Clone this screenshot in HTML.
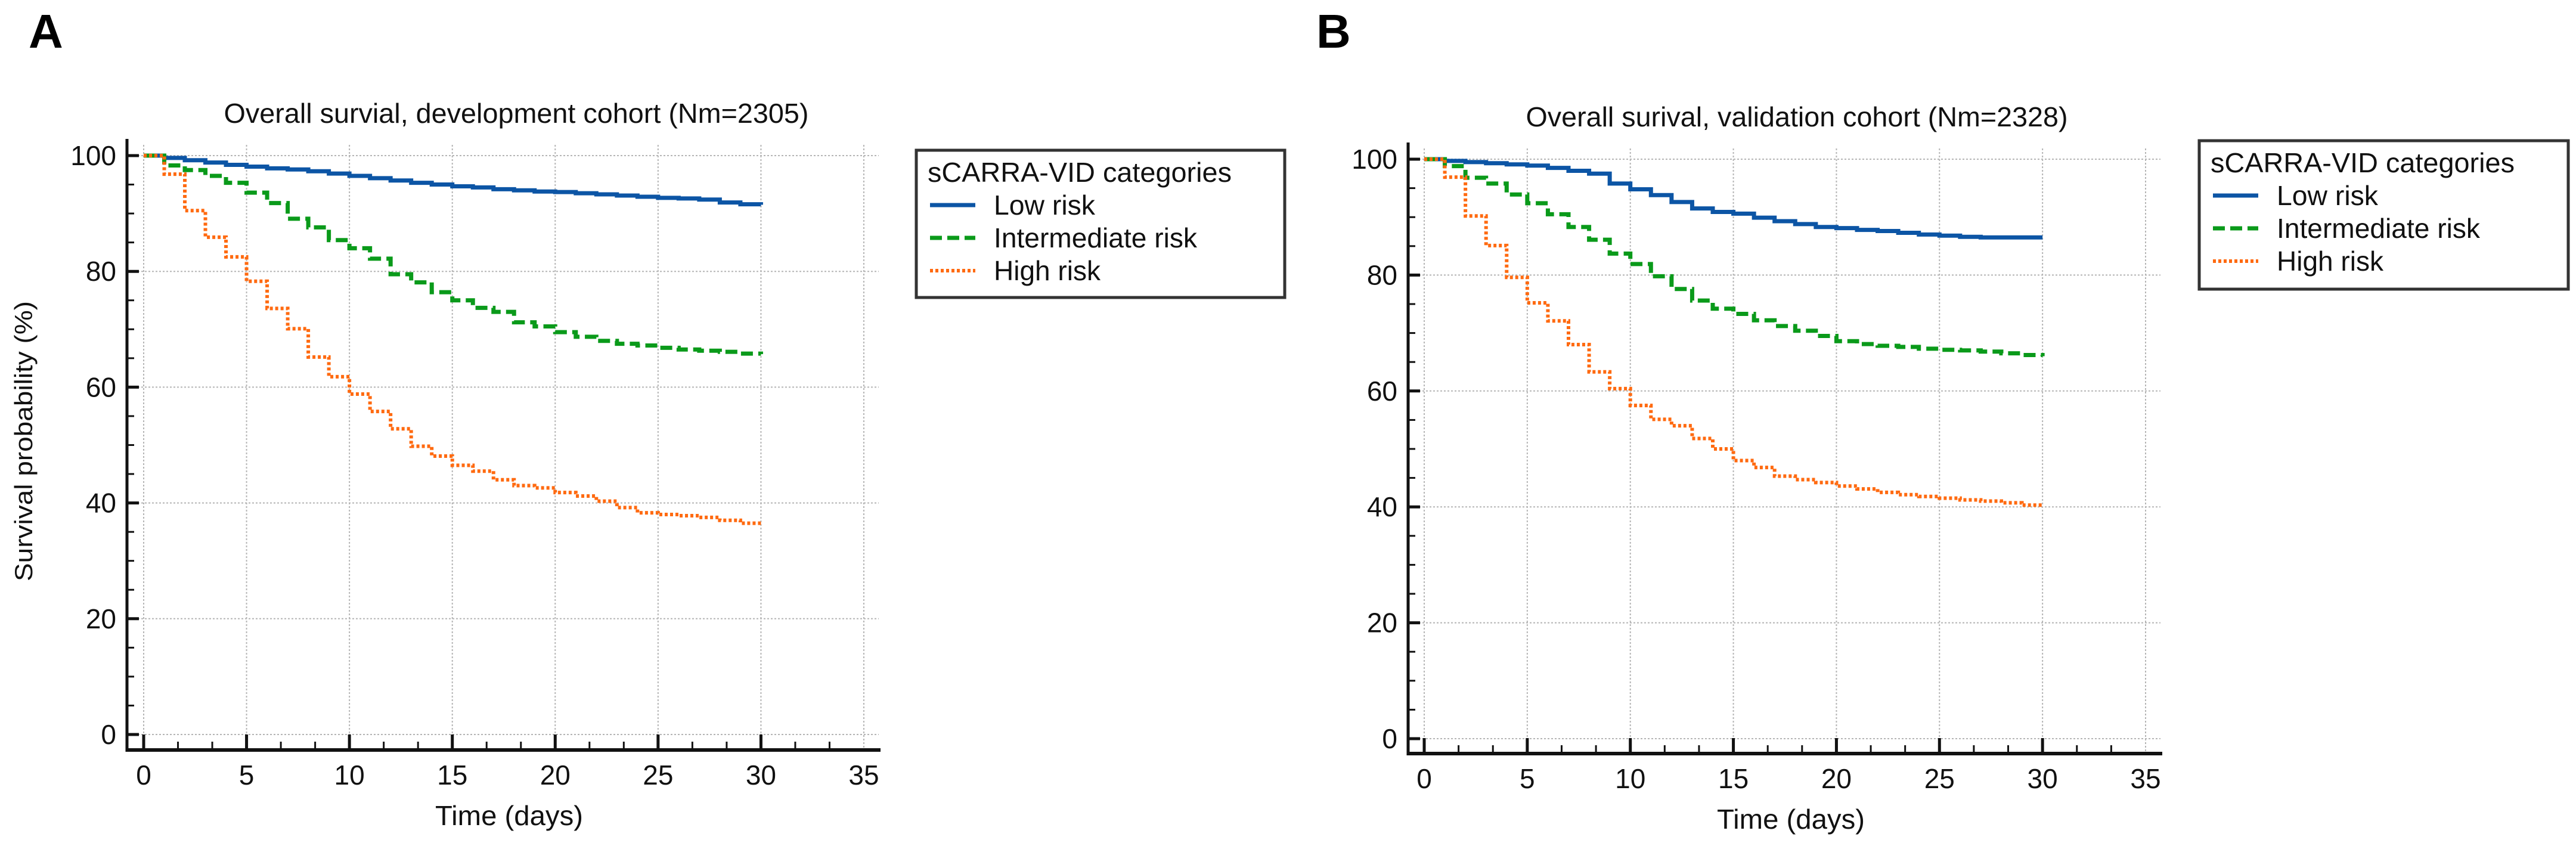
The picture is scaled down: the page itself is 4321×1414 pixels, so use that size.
<!DOCTYPE html>
<html><head><meta charset="utf-8"><style>
html,body{margin:0;padding:0;background:#fff;}
svg{display:block;font-family:"Liberation Sans",sans-serif;}
</style></head><body>
<svg id="chart" width="4321" height="1414" viewBox="0 0 4321 1414" xmlns="http://www.w3.org/2000/svg">
<rect width="4321" height="1414" fill="#fff"/>
</svg>
<script>
const days = [0,1,2,3,4,5,6,7,8,9,10,11,12,13,14,15,16,17,18,19,20,21,22,23,24,25,26,27,28,29,30];
const xTicks = [0,5,10,15,20,25,30,35];
const yTicks = [0,20,40,60,80,100];
const seriesNames = ["Low risk","Intermediate risk","High risk"];
const lowA = [100,99.6,99.2,98.8,98.4,98.1,97.8,97.6,97.3,96.9,96.5,96.1,95.7,95.3,95.0,94.7,94.5,94.2,94.0,93.8,93.7,93.5,93.3,93.1,92.9,92.7,92.6,92.4,91.9,91.6,91.5];
const interA = [100,98.3,97.5,96.5,95.3,93.6,91.8,89.1,87.6,85.4,84.0,82.2,79.5,78.1,76.4,75.0,73.7,73.0,71.2,70.5,69.5,68.7,68.0,67.5,67.2,66.8,66.5,66.3,66.1,65.8,65.7];
const highA = [100,96.8,90.5,85.9,82.5,78.3,73.6,70.1,65.2,61.8,58.8,55.8,52.8,49.8,48.1,46.5,45.5,44.0,43.0,42.6,41.8,41.2,40.3,39.2,38.3,38.0,37.8,37.5,37.0,36.5,36.3];
const lowB = [100,99.7,99.5,99.3,99.1,98.9,98.5,98.0,97.5,95.8,94.8,93.8,92.6,91.5,90.9,90.6,89.9,89.3,88.8,88.3,88.1,87.8,87.6,87.3,87.0,86.8,86.6,86.5,86.5,86.5,86.5];
const interB = [100,98.8,96.8,95.8,93.9,92.4,90.5,88.3,86.1,83.7,81.9,79.8,77.6,75.6,74.2,73.3,72.2,71.2,70.4,69.5,68.6,68.1,67.8,67.6,67.3,67.1,67.0,66.8,66.5,66.2,66.0];
const highB = [100,96.9,90.2,85.1,79.6,75.2,72.1,68.0,63.3,60.4,57.5,55.1,54.0,51.8,50.0,48.0,46.8,45.3,44.7,44.2,43.6,43.1,42.5,42.1,41.8,41.5,41.2,41.0,40.7,40.3,40.1];

const NS = "http://www.w3.org/2000/svg";
const svg = document.getElementById('chart');
function mk(tag, attrs, parent, text){
  const e = document.createElementNS(NS, tag);
  for (const k in attrs) e.setAttribute(k, attrs[k]);
  if (text !== undefined) e.textContent = text;
  (parent || svg).appendChild(e);
  return e;
}
const styles = [
  {color:"#0c55a5", dash:"none", w:7},
  {color:"#0a9a1a", dash:"20 9", w:7},
  {color:"#ff6a10", dash:"5 4", w:6}
];

const panels = [
  {key:"a", letter:"A", lx:48, x0:241, x35:1449, y100:261, y0:1232, axisY:1258, axisX:213, axisTop:233,
   title:"Overall survial, development cohort (Nm=2305)", tcx:866, tcy:206, tw:981,
   xtY:1316, xtitleX:854, xtitleY:1384, ytitle:true,
   leg:{x:1537,y:252,w:618,h:247}, data:[lowA,interA,highA]},
  {key:"b", letter:"B", lx:2208, x0:2389, x35:3599, y100:267, y0:1239, axisY:1264, axisX:2362, axisTop:239,
   title:"Overall surival, validation cohort (Nm=2328)", tcx:3014, tcy:212, tw:909,
   xtY:1322, xtitleX:3004, xtitleY:1390, ytitle:false,
   leg:{x:3689,y:236,w:619,h:249}, data:[lowB,interB,highB]}
];

panels.forEach(p => {
  const g = mk('g', {});
  
  
  const X = d => p.x0 + (p.x35 - p.x0) * d / 35;
  const Y = v => p.y0 + (p.y100 - p.y0) * v / 100;

  const letter = mk('text', {x:p.lx, y:80, 'font-size':80, 'font-weight':'bold', fill:'#000'}, g, p.letter);
  
  

  const title = mk('text', {x:p.tcx, y:p.tcy, 'font-size':46, 'text-anchor':'middle', textLength:p.tw, lengthAdjust:'spacingAndGlyphs', fill:'#111'}, g, p.title);
  
  

  xTicks.forEach(t => {
    const l = mk('line', {x1:X(t), x2:X(t), y1:p.axisTop+10, y2:p.axisY, stroke:'#b5b5b5', 'stroke-width':2, 'stroke-dasharray':'3 3'}, g);
    
    
  });
  yTicks.forEach(t => {
    const l = mk('line', {x1:p.axisX, x2:X(35)+25, y1:Y(t), y2:Y(t), stroke:'#b5b5b5', 'stroke-width':2, 'stroke-dasharray':'3 3'}, g);
    
    
  });

  const xa = mk('line', {x1:p.axisX, x2:X(35)+28, y1:p.axisY, y2:p.axisY, stroke:'#111', 'stroke-width':6}, g);
  
  
  const ya = mk('line', {x1:p.axisX, x2:p.axisX, y1:p.axisTop, y2:p.axisY+3, stroke:'#111', 'stroke-width':5}, g);
  
  

  for (let d = 0; d <= 35; d += 5/3) {
    const major = Math.abs(d/5 - Math.round(d/5)) < 0.01;
    const t = mk('line', {x1:X(d), x2:X(d), y1:p.axisY, y2:p.axisY - (major ? 26 : 14), stroke:'#111', 'stroke-width':major?5:3}, g);
    
    
  }
  xTicks.forEach(t => {
    const tl = mk('text', {x:X(t), y:p.xtY, 'font-size':46, 'text-anchor':'middle', fill:'#111'}, g, String(t));
    
    
  });
  for (let v = 0; v <= 100; v += 5) {
    const major = v % 20 === 0;
    const t = mk('line', {x1:p.axisX, x2:p.axisX + (major ? 20 : 12), y1:Y(v), y2:Y(v), stroke:'#111', 'stroke-width':major?5:3}, g);
    
    
  }
  yTicks.forEach(t => {
    const tl = mk('text', {x:p.axisX-18, y:Y(t)+16, 'font-size':46, 'text-anchor':'end', fill:'#111'}, g, String(t));
    
    
  });

  const xt = mk('text', {x:p.xtitleX, y:p.xtitleY, 'font-size':46, 'text-anchor':'middle', textLength:248, lengthAdjust:'spacingAndGlyphs', fill:'#111'}, g, 'Time (days)');
  
  
  if (p.ytitle) {
    const yt = mk('text', {x:0, y:0, 'font-size':42, 'text-anchor':'middle', textLength:470, lengthAdjust:'spacingAndGlyphs', fill:'#111', transform:'translate(54,740) rotate(-90)'}, g, 'Survival probability (%)');
    
    
  }

  p.data.forEach((vals, si) => {
    let d = 'M' + X(days[0]) + ',' + Y(vals[0]);
    for (let i = 1; i < days.length; i++) {
      d += ' H' + X(days[i]) + ' V' + Y(vals[i]);
    }
    const s = styles[si];
    const path = mk('path', {d:d, fill:'none', stroke:s.color, 'stroke-width':s.w, 'stroke-dasharray':s.dash}, g);
    
    
  });

  const L = p.leg;
  const lg = mk('g', {}, g);
  
  
  mk('rect', {x:L.x, y:L.y, width:L.w, height:L.h, fill:'#fff', stroke:'#333', 'stroke-width':5}, lg);
  const lt = mk('text', {x:L.x+19, y:L.y+53, 'font-size':46, textLength:510, lengthAdjust:'spacingAndGlyphs', fill:'#111'}, lg, 'sCARRA-VID categories');
  
  
  const widths = [170, 341, 179];
  seriesNames.forEach((n, i) => {
    const cy = L.y + 92 + i * 55;
    const s = styles[i];
    const e = mk('g', {}, lg);
    
    
    mk('line', {x1:L.x+23, x2:L.x+99, y1:cy, y2:cy, stroke:s.color, 'stroke-width':s.w, 'stroke-dasharray':s.dash}, e);
    mk('text', {x:L.x+130, y:cy+16, 'font-size':46, textLength:widths[i], lengthAdjust:'spacingAndGlyphs', fill:'#111'}, e, n);
  });
});
</script>
</body></html>
